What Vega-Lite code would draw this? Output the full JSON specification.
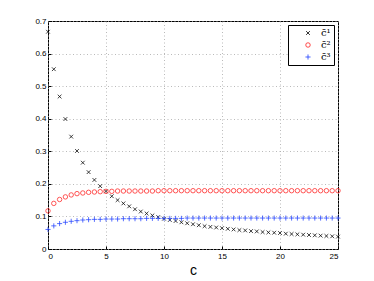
{
  "$schema": "https://vega.github.io/schema/vega-lite/v6.json",
  "width": 290,
  "height": 228,
  "autosize": {"type": "none"},
  "padding": {"left": 48, "top": 21, "right": 36, "bottom": 32},
  "background": "white",
  "config": {
    "view": {"stroke": "#000", "strokeWidth": 1},
    "font": "Liberation Sans"
  },
  "data": {
    "values": [
      {"c": 0, "e1": 0.667, "e2": 0.117, "e3": 0.060},
      {"c": 0.5, "e1": 0.552, "e2": 0.140, "e3": 0.071},
      {"c": 1, "e1": 0.468, "e2": 0.152, "e3": 0.078},
      {"c": 1.5, "e1": 0.399, "e2": 0.160, "e3": 0.082},
      {"c": 2, "e1": 0.345, "e2": 0.166, "e3": 0.085},
      {"c": 2.5, "e1": 0.301, "e2": 0.170, "e3": 0.087},
      {"c": 3, "e1": 0.265, "e2": 0.172, "e3": 0.089},
      {"c": 3.5, "e1": 0.236, "e2": 0.174, "e3": 0.090},
      {"c": 4, "e1": 0.212, "e2": 0.175, "e3": 0.091},
      {"c": 4.5, "e1": 0.193, "e2": 0.176, "e3": 0.091},
      {"c": 5, "e1": 0.177, "e2": 0.177, "e3": 0.092},
      {"c": 5.5, "e1": 0.162, "e2": 0.177, "e3": 0.092},
      {"c": 6, "e1": 0.150, "e2": 0.178, "e3": 0.092},
      {"c": 6.5, "e1": 0.140, "e2": 0.178, "e3": 0.093},
      {"c": 7, "e1": 0.131, "e2": 0.178, "e3": 0.093},
      {"c": 7.5, "e1": 0.122, "e2": 0.178, "e3": 0.093},
      {"c": 8, "e1": 0.115, "e2": 0.178, "e3": 0.093},
      {"c": 8.5, "e1": 0.109, "e2": 0.178, "e3": 0.094},
      {"c": 9, "e1": 0.103, "e2": 0.178, "e3": 0.094},
      {"c": 9.5, "e1": 0.098, "e2": 0.179, "e3": 0.094},
      {"c": 10, "e1": 0.093, "e2": 0.179, "e3": 0.094},
      {"c": 10.5, "e1": 0.089, "e2": 0.179, "e3": 0.094},
      {"c": 11, "e1": 0.086, "e2": 0.179, "e3": 0.094},
      {"c": 11.5, "e1": 0.082, "e2": 0.179, "e3": 0.094},
      {"c": 12, "e1": 0.079, "e2": 0.179, "e3": 0.095},
      {"c": 12.5, "e1": 0.076, "e2": 0.179, "e3": 0.095},
      {"c": 13, "e1": 0.073, "e2": 0.179, "e3": 0.095},
      {"c": 13.5, "e1": 0.070, "e2": 0.179, "e3": 0.095},
      {"c": 14, "e1": 0.068, "e2": 0.179, "e3": 0.095},
      {"c": 14.5, "e1": 0.066, "e2": 0.179, "e3": 0.095},
      {"c": 15, "e1": 0.064, "e2": 0.179, "e3": 0.095},
      {"c": 15.5, "e1": 0.062, "e2": 0.179, "e3": 0.095},
      {"c": 16, "e1": 0.060, "e2": 0.179, "e3": 0.095},
      {"c": 16.5, "e1": 0.058, "e2": 0.179, "e3": 0.095},
      {"c": 17, "e1": 0.057, "e2": 0.179, "e3": 0.095},
      {"c": 17.5, "e1": 0.055, "e2": 0.179, "e3": 0.095},
      {"c": 18, "e1": 0.054, "e2": 0.179, "e3": 0.095},
      {"c": 18.5, "e1": 0.052, "e2": 0.179, "e3": 0.095},
      {"c": 19, "e1": 0.051, "e2": 0.179, "e3": 0.095},
      {"c": 19.5, "e1": 0.050, "e2": 0.179, "e3": 0.095},
      {"c": 20, "e1": 0.049, "e2": 0.179, "e3": 0.095},
      {"c": 20.5, "e1": 0.047, "e2": 0.179, "e3": 0.095},
      {"c": 21, "e1": 0.046, "e2": 0.179, "e3": 0.095},
      {"c": 21.5, "e1": 0.045, "e2": 0.179, "e3": 0.095},
      {"c": 22, "e1": 0.044, "e2": 0.179, "e3": 0.095},
      {"c": 22.5, "e1": 0.043, "e2": 0.179, "e3": 0.095},
      {"c": 23, "e1": 0.042, "e2": 0.179, "e3": 0.095},
      {"c": 23.5, "e1": 0.041, "e2": 0.179, "e3": 0.095},
      {"c": 24, "e1": 0.040, "e2": 0.179, "e3": 0.095},
      {"c": 24.5, "e1": 0.039, "e2": 0.179, "e3": 0.095},
      {"c": 25, "e1": 0.038, "e2": 0.179, "e3": 0.095}
    ]
  },
  "transform": [{"fold": ["e1", "e2", "e3"], "as": ["s", "v"]}],
  "mark": {"type": "point", "filled": false, "strokeWidth": 0.75, "opacity": 1},
  "encoding": {
    "x": {
      "field": "c",
      "type": "quantitative",
      "scale": {"domain": [0, 25], "nice": false, "zero": false},
      "axis": {
        "values": [0, 5, 10, 15, 20, 25],
        "title": "c",
        "titleFontSize": 14,
        "titleFontWeight": "normal",
        "titleFont": "Liberation Sans",
        "titleColor": "#000",
        "titlePadding": 3,
        "labelFontSize": 8,
        "labelColor": "#000",
        "labelPadding": 6,
        "tickSize": -3,
        "tickColor": "#000",
        "domain": false,
        "grid": true,
        "gridDash": [1, 2.5],
        "gridColor": "#a8a8a8",
        "gridOpacity": 1,
        "gridWidth": 0.8
      }
    },
    "y": {
      "field": "v",
      "type": "quantitative",
      "scale": {"domain": [0, 0.7], "nice": false},
      "axis": {
        "values": [0, 0.1, 0.2, 0.3, 0.4, 0.5, 0.6, 0.7],
        "title": null,
        "labelFontSize": 8,
        "labelColor": "#000",
        "labelPadding": 5,
        "labelExpr": "datum.value == 0 ? '0' : format(datum.value, '.1f')",
        "tickSize": -3,
        "tickColor": "#000",
        "domain": false,
        "grid": true,
        "gridDash": [1, 2.5],
        "gridColor": "#a8a8a8",
        "gridOpacity": 1,
        "gridWidth": 0.8
      }
    },
    "color": {
      "field": "s",
      "type": "nominal",
      "scale": {"domain": ["e1", "e2", "e3"], "range": ["#000000", "#ff2020", "#2040ff"]},
      "legend": {
        "title": null,
        "orient": "none",
        "legendX": 240,
        "legendY": 4,
        "fillColor": "white",
        "strokeColor": "#000",
        "padding": 3,
        "rowPadding": 2,
        "symbolOffset": 12,
        "labelOffset": 8,
        "labelFont": "DejaVu Serif",
        "labelFontSize": 10,
        "labelColor": "#000",
        "symbolStrokeWidth": 0.8,
        "labelExpr": "datum.label == 'e1' ? 'c\u0304\u00b9' : datum.label == 'e2' ? 'c\u0304\u00b2' : 'c\u0304\u00b3'"
      }
    },
    "shape": {
      "field": "s",
      "type": "nominal",
      "scale": {
        "domain": ["e1", "e2", "e3"],
        "range": ["M-1,-1L1,1M1,-1L-1,1", "circle", "M-1,0L1,0M0,-1L0,1"]
      }
    },
    "size": {
      "field": "s",
      "type": "nominal",
      "scale": {"domain": ["e1", "e2", "e3"], "range": [14, 26, 30]}
    }
  }
}
